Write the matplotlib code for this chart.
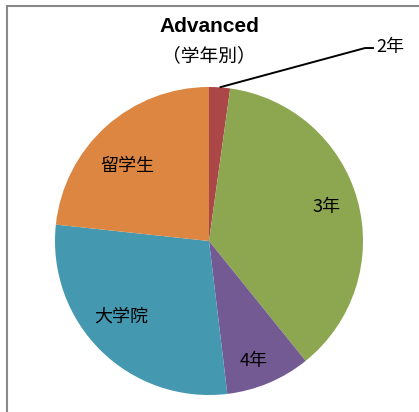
import numpy as np
import matplotlib.pyplot as plt
from matplotlib.patches import Rectangle

plt.rcParams['font.family'] = ['Noto Sans CJK JP', 'DejaVu Sans']

# share of students by year (%)
labels = ['2年', '3年', '4年', '大学院', '留学生']
values = [2.2, 37.0, 8.9, 28.6, 23.3]
colors = ['#AC4747', '#8CA750', '#735A92', '#4498B0', '#DD8641']

W, H = 419, 412
fig = plt.figure(figsize=(W / 100, H / 100), dpi=100)

# pie centre (209, 241) px, radius 154 px
cx, cy, r = 209, 241, 154
ax = fig.add_axes([(cx - r) / W, (H - cy - r) / H, 2 * r / W, 2 * r / H])

wedges, texts = ax.pie(values, colors=colors, startangle=90, counterclock=False,
                       labels=[''] + labels[1:], labeldistance=0.78,
                       wedgeprops=dict(linewidth=0),
                       textprops=dict(fontsize=13, color='black', ha='center', va='center'))
# pie() widens the limits, so put them back to the unit circle
ax.set_xlim(-1, 1)
ax.set_ylim(-1, 1)
ax.set_aspect('equal')
ax.axis('off')

# nudge the inside labels
label_pos = {1: (0.76, 0.22), 2: (0.29, -0.78), 3: (-0.57, -0.49), 4: (-0.53, 0.49)}
for i, p in label_pos.items():
    texts[i].set_position(p)

# small slice gets a leader line and an outside label
w = wedges[0]
mid = np.deg2rad((w.theta1 + w.theta2) / 2)
x0, y0 = np.cos(mid), np.sin(mid)
ax.plot([x0, 1.013, 1.071], [y0, 1.253, 1.253], color='black', lw=1.4,
        clip_on=False, solid_capstyle='butt')
ax.text(1.085, 1.262, labels[0], fontsize=13, ha='left', va='center', clip_on=False)

fig.text(cx / W, 1 - 26 / H, 'Advanced', family='Liberation Sans', fontweight='bold',
         fontsize=15, ha='center', va='center')
fig.text(cx / W, 1 - 56 / H, '（学年別）', fontsize=13.5, ha='center', va='center')

# chart area frame
fig.patches.append(Rectangle((7 / W, -0.1), 1.2, 1.1 - 6 / H, transform=fig.transFigure,
                             figure=fig, fill=False, edgecolor='#888888', lw=1.5))

fig.savefig('out.png', dpi=100)
